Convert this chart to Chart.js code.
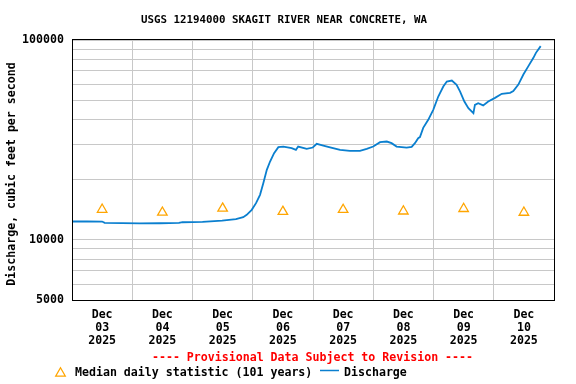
<!DOCTYPE html>
<html>
<head>
<meta charset="utf-8">
<script src="https://cdn.jsdelivr.net/npm/chart.js@4.4.1/dist/chart.umd.min.js"></script>
<style>
html,body{margin:0;padding:0;background:#fff;}
#wrap{width:576px;height:384px;position:relative;}
</style>
</head>
<body>
<div id="wrap"><canvas id="c" width="576" height="384"></canvas></div>
<script>
// ---- data ----
const titleText = 'USGS 12194000 SKAGIT RIVER NEAR CONCRETE, WA';
const yAxisTitle = 'Discharge, cubic feet per second';
const dayLabels = ['03','04','05','06','07','08','09','10'];
const monthLabel = 'Dec';
const yearLabel = '2025';
const yTickValues = [5000,6000,7000,8000,9000,10000,20000,30000,40000,50000,60000,70000,80000,90000,100000];
const yLabeledTicks = [5000,10000,100000];
// median daily statistic, one per day (at noon)
const medianValues = [14180,13710,14360,13830,14150,13900,14310,13700];
// discharge: hours since Dec 03 00:00, cfs
const dischargeHours = [0,6,12,13,20,27,35,42.6,44,52,59.8,65.3,68.2,69.6,71.6,73.3,74.9,76.2,77.6,78.9,80.5,82.2,84.2,87.5,89.2,90.1,93.5,95.9,97.5,100.1,102.8,106.8,110.7,114.7,117.4,120.0,122.7,125.4,127.3,129.3,133.3,135.3,136.6,137.9,138.6,139.9,141.9,143.9,145.9,147.9,149.3,151.3,153.2,154.6,156.3,157.9,159.9,160.5,161.8,163.8,165.8,168.5,171.2,174.5,175.8,177.8,179.8,181.8,183.8,184.8,186.7];
const dischargeValues = [12350,12380,12350,12160,12120,12090,12110,12160,12250,12300,12490,12690,12990,13340,14130,15260,16800,19220,22400,24650,27160,29100,29300,28770,28210,29300,28530,28970,30220,29640,29030,28210,27880,27880,28530,29300,30820,31040,30470,29300,28970,29200,30470,32280,32650,36340,39860,44730,52130,58490,61960,62670,59650,55220,49200,45600,43050,47370,48310,47100,49200,51350,53770,54400,55470,59860,67160,73990,81420,86240,93170];

const FONT = '"DejaVu Sans Mono", "Liberation Mono", monospace';
const GRID = '#c8c8c8';
const BLUE = '#0a7fcf';
const ORANGE = '#ffa500';

const dischargeData = dischargeHours.map((h,i)=>({x:h,y:dischargeValues[i]}));
const medianData = medianValues.map((v,i)=>({x:12+24*i,y:v}));

const textPlugin = {
  id:'texts',
  afterDraw(chart){
    const ctx = chart.ctx;
    const a = chart.chartArea;
    ctx.save();
    // frame
    ctx.strokeStyle = '#000';
    ctx.lineWidth = 1;
    ctx.strokeRect(Math.round(a.left)+0.5, Math.round(a.top)-0.5, Math.round(a.right-a.left), Math.round(a.bottom-a.top)+1);
    // title
    ctx.fillStyle = '#000';
    ctx.textAlign = 'center';
    ctx.textBaseline = 'middle';
    ctx.font = 'bold 10.8px ' + FONT;
    ctx.fillText(titleText, 284, 20.5);
    // y axis title
    ctx.font = 'bold 11.6px ' + FONT;
    ctx.save();
    ctx.translate(11.5, 174);
    ctx.rotate(-Math.PI/2);
    ctx.fillText(yAxisTitle, 0, 0);
    ctx.restore();
    // provisional
    ctx.fillStyle = '#ff0000';
    ctx.fillText('---- Provisional Data Subject to Revision ----', 312.5, 358);
    // legend
    ctx.fillStyle = '#000';
    ctx.textAlign = 'left';
    ctx.fillText('Median daily statistic (101 years)', 75, 373);
    ctx.fillText('Discharge', 344, 373);
    // legend triangle
    const r = 5.5, cx = 60.5, cy = 373.3;
    ctx.strokeStyle = ORANGE;
    ctx.lineWidth = 1.3;
    ctx.beginPath();
    ctx.moveTo(cx, cy - r);
    ctx.lineTo(cx + 0.866*r, cy + 0.5*r);
    ctx.lineTo(cx - 0.866*r, cy + 0.5*r);
    ctx.closePath();
    ctx.stroke();
    // legend line
    ctx.strokeStyle = BLUE;
    ctx.lineWidth = 1.5;
    ctx.beginPath();
    ctx.moveTo(320, 370.5);
    ctx.lineTo(339, 370.5);
    ctx.stroke();
    ctx.restore();
  }
};

new Chart(document.getElementById('c'), {
  type:'line',
  data:{
    datasets:[
      {
        label:'Discharge',
        data:dischargeData,
        borderColor:BLUE,
        borderWidth:1.8,
        pointRadius:0,
        tension:0,
        fill:false
      },
      {
        label:'Median daily statistic (101 years)',
        data:medianData,
        showLine:false,
        pointStyle:'triangle',
        pointRadius:5.5,
        pointBorderColor:ORANGE,
        pointBackgroundColor:'rgba(0,0,0,0)',
        pointBorderWidth:1.3
      }
    ]
  },
  options:{
    responsive:false,
    animation:false,
    devicePixelRatio:1,
    layout:{padding:{top:40,right:22,left:0,bottom:0}},
    plugins:{legend:{display:false},title:{display:false},tooltip:{enabled:false}},
    scales:{
      x:{
        type:'linear',
        min:0,max:192,
        afterBuildTicks(axis){
          const t=[];
          for(let h=0;h<=192;h+=12) t.push({value:h});
          axis.ticks=t;
        },
        afterFit(scale){ scale.height = 84; },
        grid:{
          drawTicks:false,
          color:(c)=> (c.tick && c.tick.value%24===0) ? GRID : 'rgba(0,0,0,0)',
          lineWidth:1
        },
        border:{display:true,color:'#000'},
        ticks:{
          autoSkip:false,
          maxRotation:0,
          padding:8,
          color:'#000',
          font:{family:FONT,size:11.6,weight:'bold',lineHeight:'13px'},
          callback:(v)=> (v%24===12) ? [monthLabel, dayLabels[(v-12)/24], yearLabel] : ''
        }
      },
      y:{
        type:'logarithmic',
        min:5000,max:100000,
        afterBuildTicks(axis){
          axis.ticks = yTickValues.map(v=>({value:v}));
        },
        afterFit(scale){ scale.width = 72; },
        grid:{drawTicks:false,color:GRID,lineWidth:1},
        border:{display:true,color:'#000'},
        ticks:{
          autoSkip:false,
          padding:8,
          color:'#000',
          font:{family:FONT,size:11.6,weight:'bold'},
          callback:(v)=> yLabeledTicks.includes(v) ? String(v) : ''
        }
      }
    }
  },
  plugins:[textPlugin]
});
</script>
</body>
</html>
